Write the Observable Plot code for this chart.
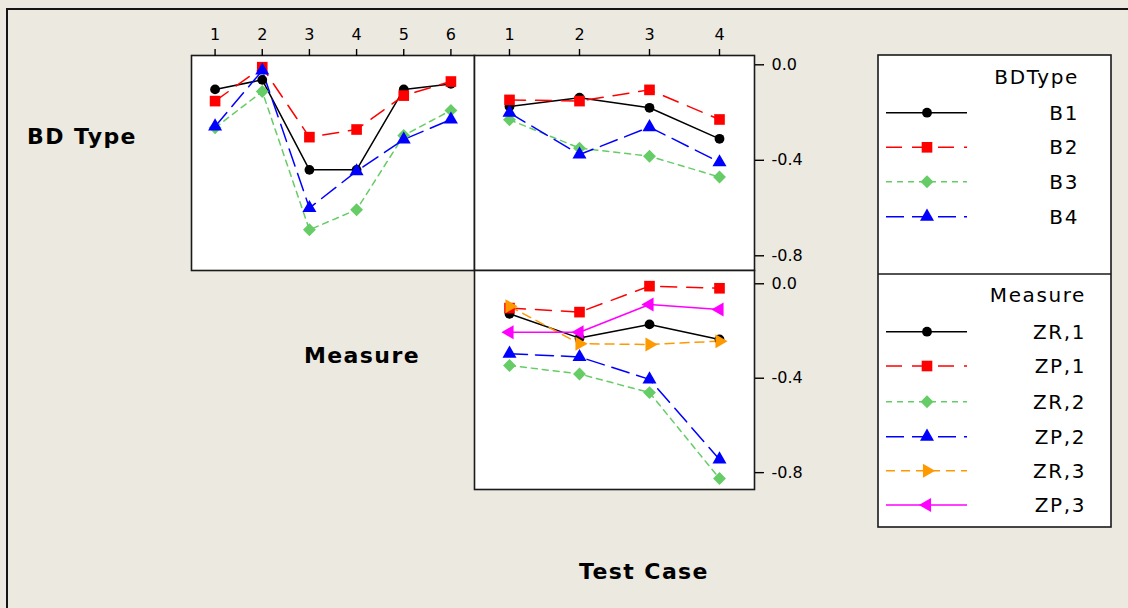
<!DOCTYPE html>
<html>
<head>
<meta charset="utf-8">
<script src="https://cdn.jsdelivr.net/npm/d3@7"></script>
<script src="https://cdn.jsdelivr.net/npm/@observablehq/plot@0.6"></script>
<style>
  html, body { margin: 0; padding: 0; background: #ece9e0; }
  #chart { position: relative; width: 1128px; height: 608px; overflow: hidden; font-family: "DejaVu Sans", Verdana, sans-serif; }
  #outer { position: absolute; left: 6px; top: 8px; width: 1200px; height: 700px; border: 2px solid #151515; box-sizing: border-box; }
  .panel { position: absolute; }
  .factor { position: absolute; font-weight: bold; font-size: 22px; letter-spacing: 1.4px; color: #000; transform: translate(-50%, -50%); white-space: nowrap; }
  #legend { position: absolute; left: 876px; top: 53px; }
</style>
</head>
<body>
<div id="chart">
  <div id="outer"></div>
</div>
<script>
// Factor levels and tick values
const measureLevels = [1, 2, 3, 4, 5, 6];
const testCases = [1, 2, 3, 4];
const bdTypes = ["B1", "B2", "B3", "B4"];
const measures = ["ZR,1", "ZP,1", "ZR,2", "ZP,2", "ZR,3", "ZP,3"];
const yTicks = [0, -0.4, -0.8];

// BD Type means at Measure levels 1–6
const b1ByMeasure = [-0.103, -0.063, -0.440, -0.440, -0.103, -0.080];
const b2ByMeasure = [-0.152, -0.010, -0.303, -0.271, -0.129, -0.070];
const b3ByMeasure = [-0.264, -0.112, -0.691, -0.607, -0.296, -0.191];
const b4ByMeasure = [-0.258, -0.024, -0.600, -0.446, -0.313, -0.229];

// BD Type means at Test Cases 1–4
const b1ByCase = [-0.175, -0.138, -0.180, -0.310];
const b2ByCase = [-0.147, -0.152, -0.105, -0.229];
const b3ByCase = [-0.230, -0.349, -0.383, -0.470];
const b4ByCase = [-0.201, -0.376, -0.261, -0.408];

// Measure means at Test Cases 1–4
const zr1ByCase = [-0.127, -0.230, -0.172, -0.236];
const zp1ByCase = [-0.103, -0.120, -0.010, -0.019];
const zr2ByCase = [-0.346, -0.382, -0.461, -0.825];
const zp2ByCase = [-0.296, -0.310, -0.405, -0.744];
const zr3ByCase = [-0.095, -0.254, -0.257, -0.243];
const zp3ByCase = [-0.205, -0.205, -0.088, -0.109];

// Line and symbol style for the 1st..6th level of a trace factor
const traceStyles = [
  {color: "#000000", dash: null,     symbol: "circle",   r: 4.9, rotate: 0},
  {color: "#ff0000", dash: "16,10",  symbol: "square",   r: 6.0, rotate: 0},
  {color: "#66cc66", dash: "6,5",    symbol: "diamond2", r: 5.8, rotate: 0},
  {color: "#0000ff", dash: "18,8",   symbol: "triangle", r: 5.2, rotate: 0},
  {color: "#ff9900", dash: "9,6",    symbol: "triangle", r: 5.2, rotate: 90},
  {color: "#ff00ff", dash: null,     symbol: "triangle", r: 5.2, rotate: -90}
];

const chart = document.getElementById("chart");
const fontStyle = {background: "transparent", fontSize: "16px", fontFamily: "'DejaVu Sans', Verdana, sans-serif", color: "#000", overflow: "visible"};
const fmt = d => d.toFixed(1);

function interactionPanel({levels, series, xDomain, yDomain, innerW, innerH, left, top, mt, mb, mr, topAxis, rightAxis}) {
  const ml = 2;
  const marks = [Plot.frame({fill: "white"})];
  series.forEach((values, i) => {
    const st = traceStyles[i];
    const rows = levels.map((x, j) => ({level: x, mean: values[j]}));
    marks.push(Plot.line(rows, {x: "level", y: "mean", stroke: st.color, strokeWidth: 1.5, strokeDasharray: st.dash ?? undefined}));
  });
  series.forEach((values, i) => {
    const st = traceStyles[i];
    const rows = levels.map((x, j) => ({level: x, mean: values[j]}));
    marks.push(Plot.dot(rows, {x: "level", y: "mean", symbol: st.symbol, r: st.r, fill: st.color, stroke: "none", rotate: st.rotate}));
  });
  marks.push(Plot.frame({stroke: "#1a1a1a", strokeWidth: 1.6}));
  if (topAxis) marks.push(Plot.axisX({anchor: "top", ticks: levels, tickSize: 7, tickPadding: 9, tickFormat: d => String(d), label: null, strokeWidth: 1.4}));
  if (rightAxis) marks.push(Plot.axisY({anchor: "right", ticks: yTicks, tickSize: 9, tickPadding: 8, tickFormat: fmt, label: null, strokeWidth: 1.4, letterSpacing: 0.5}));
  const svg = Plot.plot({
    width: ml + innerW + mr,
    height: mt + innerH + mb,
    marginLeft: ml, marginRight: mr, marginTop: mt, marginBottom: mb,
    x: topAxis ? {domain: xDomain, label: null} : {domain: xDomain, label: null, axis: null},
    y: rightAxis ? {domain: yDomain, label: null} : {domain: yDomain, label: null, axis: null},
    style: fontStyle,
    marks
  });
  svg.classList.add("panel");
  svg.style.left = `${left - ml}px`;
  svg.style.top = `${top - mt}px`;
  chart.appendChild(svg);
}

// BD Type × Measure
interactionPanel({
  levels: measureLevels,
  series: [b1ByMeasure, b2ByMeasure, b3ByMeasure, b4ByMeasure],
  xDomain: [0.5, 6.5], yDomain: [-0.8616, 0.039],
  innerW: 283, innerH: 215, left: 191, top: 55, mt: 35, mb: 3, mr: 2,
  topAxis: true, rightAxis: false
});

// BD Type × Test Case
interactionPanel({
  levels: testCases,
  series: [b1ByCase, b2ByCase, b3ByCase, b4ByCase],
  xDomain: [0.5, 4.5], yDomain: [-0.8616, 0.039],
  innerW: 280, innerH: 215, left: 474, top: 55, mt: 35, mb: 3, mr: 60,
  topAxis: true, rightAxis: true
});

// Measure × Test Case
interactionPanel({
  levels: testCases,
  series: [zr1ByCase, zp1ByCase, zr2ByCase, zp2ByCase, zr3ByCase, zp3ByCase],
  xDomain: [0.5, 4.5], yDomain: [-0.8714, 0.0563],
  innerW: 280, innerH: 219, left: 474, top: 270, mt: 5, mb: 5, mr: 60,
  topAxis: false, rightAxis: true
});

// Factor names
[["BD Type", 82, 136], ["Measure", 362, 355], ["Test Case", 644, 571]].forEach(([t, x, y]) => {
  const d = document.createElement("div");
  d.className = "factor";
  d.textContent = t;
  d.style.left = `${x}px`;
  d.style.top = `${y}px`;
  chart.appendChild(d);
});

// Legend box with the two trace factors
const lg = d3.create("svg").attr("id", "legend").attr("width", 240).attr("height", 480)
  .style("font-family", "'DejaVu Sans', Verdana, sans-serif");
const g = lg.append("g").attr("transform", "translate(2,2)");
g.append("rect").attr("width", 233).attr("height", 472).attr("fill", "white").attr("stroke", "#1a1a1a").attr("stroke-width", 1.6);
g.append("line").attr("x1", 0).attr("x2", 233).attr("y1", 219).attr("y2", 219).attr("stroke", "#1a1a1a").attr("stroke-width", 1.6);

function legendGroup(title, names, titleY, rowY, textRight) {
  g.append("text").attr("x", textRight).attr("y", titleY).attr("text-anchor", "end").attr("dominant-baseline", "central")
    .attr("font-size", 20).attr("letter-spacing", 1.6).text(title);
  names.forEach((name, i) => {
    const st = traceStyles[i];
    const y = rowY[i];
    g.append("line").attr("x1", 8).attr("x2", 89).attr("y1", y).attr("y2", y)
      .attr("stroke", st.color).attr("stroke-width", 1.5).attr("stroke-dasharray", st.dash);
    const sym = {circle: d3.symbolCircle, square: d3.symbolSquare, diamond2: d3.symbolDiamond2, triangle: d3.symbolTriangle}[st.symbol];
    g.append("path").attr("d", d3.symbol(sym, Math.PI * st.r * st.r)())
      .attr("transform", `translate(49,${y}) rotate(${st.rotate})`).attr("fill", st.color);
    g.append("text").attr("x", textRight).attr("y", y).attr("text-anchor", "end").attr("dominant-baseline", "central")
      .attr("font-size", 20).attr("letter-spacing", 1.6).text(name);
  });
}
legendGroup("BDType", bdTypes, 21.7, [57.7, 92.3, 126.7, 161.7], 201);
legendGroup("Measure", measures, 240, [276.7, 311, 346.7, 381.7, 415.7, 450], 208);
chart.appendChild(lg.node());
</script>
</body>
</html>
